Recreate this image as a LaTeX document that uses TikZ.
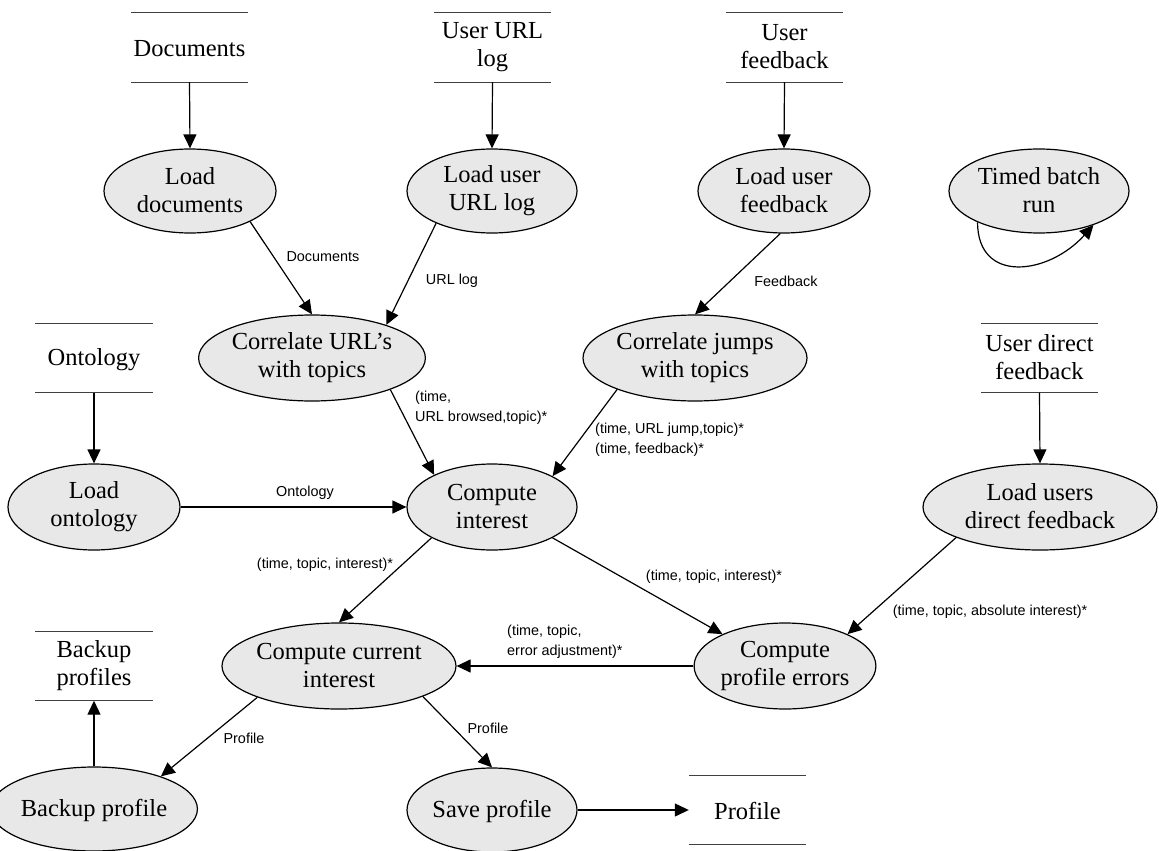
\documentclass[tikz,border=0pt]{standalone}
\usepackage{fontspec}
\setmainfont{Liberation Serif}
\setsansfont{Liberation Sans}
\usetikzlibrary{shapes.geometric,arrows.meta}
\definecolor{procfill}{HTML}{E8E8E8}
\definecolor{storeline}{HTML}{404040}
% struts that fix the height of the first line and the depth of the last one
\newcommand{\topstrut}{\rule{0pt}{20pt}}
\newcommand{\botstrut}{\rule[-2pt]{0pt}{2pt}}
\begin{document}
\begin{tikzpicture}[x=1pt,y=-1pt,
  proc/.style={ellipse, draw=black, fill=procfill, line width=1.2pt, inner sep=0pt,
    align=center, font=\fontsize{24.5}{28}\selectfont,
    execute at begin node=\topstrut, execute at end node=\botstrut},
  store/.style={inner sep=0pt, minimum width=117pt, minimum height=69pt, align=center,
    font=\fontsize{24.5}{28}\selectfont,
    execute at begin node=\topstrut, execute at end node=\botstrut},
  storerule/.style={draw=storeline, line width=1.3pt},
  flow/.style={draw=black, line width=1.2pt, -{Triangle[length=14pt,width=13pt]}},
  lbl/.style={font=\sffamily\fontsize{14.4}{20}\selectfont, inner sep=0pt, align=left}
]
\useasboundingbox (0,0) rectangle (1159,851);

% data stores
\node[store] (docs) at (189.5,47.5) {Documents};
\node[store] (urllog) at (492.5,47.5) {User URL\\log};
\node[store] (ufb) at (784.5,47.5) {User\\feedback};
\node[store] (onto) at (94,358) {Ontology};
\node[store] (udfb) at (1039.5,358) {User direct\\feedback};
\node[store] (bkps) at (94,666) {Backup\\profiles};
\node[store] (prof) at (747.5,810) {Profile};
\foreach \s in {docs,urllog,ufb,onto,udfb,bkps,prof}
  \draw[storerule] (\s.north west) -- (\s.north east) (\s.south west) -- (\s.south east);

% processes
\node[proc, minimum width=172pt, minimum height=84pt] (ld) at (190,191) {Load\\documents};
\node[proc, minimum width=170pt, minimum height=84pt] (lu) at (492,191) {Load user\\URL log};
\node[proc, minimum width=172pt, minimum height=84pt] (lf) at (784,191) {Load user\\feedback};
\node[proc, minimum width=180pt, minimum height=84pt] (tb) at (1039,191) {Timed batch\\run};
\node[proc, minimum width=224pt, minimum height=86pt] (cu) at (312,358) {Correlate URL’s\\with topics};
\node[proc, minimum width=224pt, minimum height=86pt] (cj) at (695,358) {Correlate jumps\\with topics};
\node[proc, minimum width=172pt, minimum height=86pt] (lo) at (94,507) {Load\\ontology};
\node[proc, minimum width=170pt, minimum height=86pt] (ci) at (492,507) {Compute\\interest};
\node[proc, minimum width=234pt, minimum height=86pt] (lud) at (1040,507) {Load users\\direct feedback};
\node[proc, minimum width=234pt, minimum height=86pt] (cci) at (339,666) {Compute current\\interest};
\node[proc, minimum width=172pt, minimum height=86pt] (cpe) at (785,666) {Compute\\profile errors};
\node[proc, minimum width=172pt, minimum height=84pt] (bp) at (94,809) {Backup profile};
\node[proc, minimum width=170pt, minimum height=84pt] (sp) at (492,810) {Save profile};

% flows from stores
\draw[flow] (docs.south) -- (ld.north);
\draw[flow] (urllog.south) -- (lu.north);
\draw[flow] (ufb.south) -- (lf.north);
\draw[flow] (onto.south) -- (lo.north);
\draw[flow] (udfb.south) -- (lud.north);
\draw[flow] (bp.north) -- (bkps.south);
\draw[flow] (sp.east) -- (prof.west);

% flows between processes
\draw[flow] (ld.-27) -- (cu.north);
\draw[flow] (lu.-150) -- (cu.24);
\draw[flow] (lf.-95) -- (cj.north);
\draw[flow] (cu.-22) -- (ci.151);
\draw[flow] (cj.-158) -- (ci.27);
\draw[flow] (lo.east) -- (ci.west);
\draw[flow] (ci.-153) -- (cci.north);
\draw[flow] (ci.-27) -- (cpe.153);
\draw[flow] (lud.-160) -- (cpe.27);
\draw[flow] (cpe.west) -- (cci.east);
\draw[flow] (cci.-159) -- (bp.26);
\draw[flow] (cci.-20) -- (sp.north);
\draw[flow] (tb.-153) .. controls +(0,62) and +(-45,50) .. (tb.-32);

% flow labels
\node[lbl] (l1) at (323,257) {Documents};
\node[lbl] (l2) at (452,281) {URL log};
\node[lbl] (l3) at (786,281) {Feedback};
\node[lbl, anchor=west] (l4) at (415,408) {(time,\\URL browsed,topic)*};
\node[lbl, anchor=west] (l5) at (595,440) {(time, URL jump,topic)*\\(time, feedback)*};
\node[lbl] (l6) at (305,493) {Ontology};
\node[lbl] (l7) at (325,565) {(time, topic, interest)*};
\node[lbl] (l8) at (714,577) {(time, topic, interest)*};
\node[lbl] (l9) at (990,612) {(time, topic, absolute interest)*};
\node[lbl, anchor=west] (l10) at (507,642) {(time, topic,\\error adjustment)*};
\node[lbl] (l11) at (244,738) {Profile};
\node[lbl] (l12) at (488,728) {Profile};
\end{tikzpicture}
\end{document}
